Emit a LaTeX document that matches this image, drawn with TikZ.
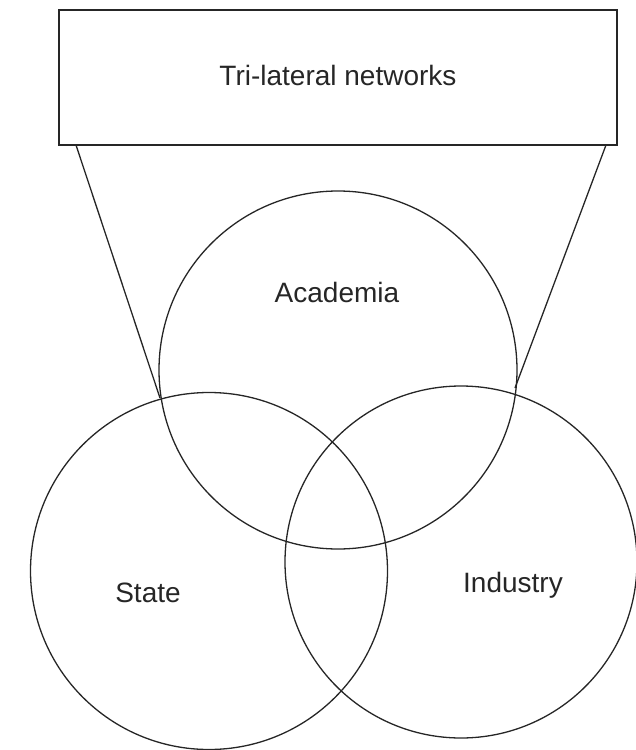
\documentclass[tikz,border=0pt]{standalone}
\usepackage{fontspec}
\setmainfont{Liberation Sans}
\begin{document}
\begin{tikzpicture}[x=1pt,y=-1pt,
  ln/.style={line width=1.3pt,draw=black!85},
  ring/.style={ln,circle,inner sep=0pt,outer sep=0pt},
  lbl/.style={font=\fontsize{28}{30}\selectfont,text=black!85,anchor=base,inner sep=0pt}]
\useasboundingbox (0,0) rectangle (636,750);
\node[ln,rectangle,minimum width=558pt,minimum height=135pt,inner sep=0pt,outer sep=0pt] (box) at (338,77.5) {};
\node[lbl] (tl) at (338,85) {Tri-lateral networks};
\node[ring,minimum size=358pt] (acad) at (338,370) {};
\node[ring,minimum size=357pt] (state) at (209,571) {};
\node[ring,minimum size=352pt] (ind) at (461,562) {};
\node[lbl] (la) at (337,302) {Academia};
\node[lbl] (ls) at (148,602) {State};
\node[lbl] (li) at (513,592) {Industry};
\coordinate (bl) at (76,145);
\coordinate (br) at (606,145);
\coordinate (xl) at (160,398);
\coordinate (xr) at (515,388);
\draw[ln] (bl) -- (xl);
\draw[ln] (br) -- (xr);
\end{tikzpicture}
\end{document}
